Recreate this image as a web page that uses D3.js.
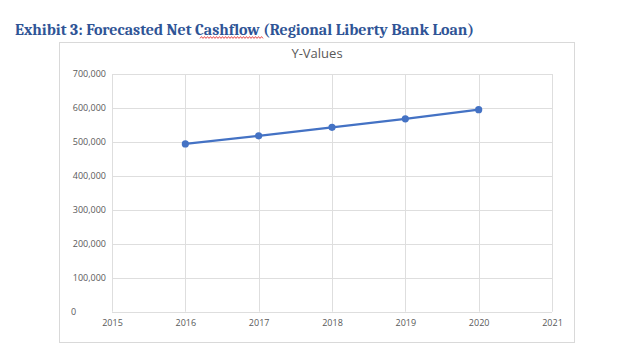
<!doctype html>
<html>
<head>
  <meta charset="utf-8">
  <title>Exhibit 3</title>
  <style>
    html, body { margin: 0; padding: 0; background: #fff; }
    svg { display: block; }
    .tick text { fill: #595959; font-family: "Open Sans", sans-serif; font-size: 9px; }
  </style>
</head>
<body>
  <svg id="chart"></svg>

  <script src="https://d3js.org/d3.v7.min.js"></script>
  <script>
    // data
    var years = [2016, 2017, 2018, 2019, 2020];
    var cashflow = [494000, 518000, 543000, 568000, 595000];
    var xTicks = [2015, 2016, 2017, 2018, 2019, 2020, 2021];
    var yTicks = [0, 100000, 200000, 300000, 400000, 500000, 600000, 700000];

    const W = 623, H = 364;
    var svg = d3.select("#chart").attr("width", W).attr("height", H);

    // page heading
    svg.append("text")
        .attr("x", 15)
        .attr("y", 34.5)
        .attr("textLength", 459)
        .attr("lengthAdjust", "spacingAndGlyphs")
        .style("font-family", "Cambria, 'Liberation Serif', 'DejaVu Serif', serif")
        .style("font-weight", "bold")
        .style("font-size", "15.5px")
        .style("fill", "#2F5496")
        .text("Exhibit 3: Forecasted Net Cashflow (Regional Liberty Bank Loan)");

    // spell-check squiggle under "Cashflow"
    svg.append("path")
        .attr("d", d3.range(200, 264, 1.5).map((v, k) => (k ? "L" : "M") + v + "," + (k % 2 ? 36.6 : 38.4)).join(" "))
        .style("fill", "none")
        .style("stroke", "#e02020")
        .style("stroke-width", 0.8);

    // chart frame
    svg.append("rect")
        .attr("x", 59.5)
        .attr("y", 42.5)
        .attr("width", 515)
        .attr("height", 300)
        .style("fill", "#fff")
        .style("stroke", "#d9d9d9")
        .style("stroke-width", 1);

    svg.append("text")
        .attr("x", 317)
        .attr("y", 57.5)
        .attr("text-anchor", "middle")
        .style("font-family", "'Open Sans', sans-serif")
        .style("font-size", "13px")
        .style("fill", "#595959")
        .text("Y-Values");

    var x = d3.scaleLinear().domain([2015, 2021]).range([112, 552]);
    var y = d3.scaleLinear().domain([0, 700000]).range([311.7, 74]);

    // horizontal gridlines
    svg.append("g")
        .selectAll("line")
        .data(yTicks)
        .join("line")
        .attr("x1", x(2015))
        .attr("x2", x(2021))
        .attr("y1", d => Math.round(y(d)) + 0.5)
        .attr("y2", d => Math.round(y(d)) + 0.5)
        .style("stroke", "#dedede")
        .style("stroke-width", 1);

    // vertical gridlines
    svg.append("g")
        .selectAll("line")
        .data(xTicks)
        .join("line")
        .attr("x1", d => Math.round(x(d)) + 0.5)
        .attr("x2", d => Math.round(x(d)) + 0.5)
        .attr("y1", y(700000))
        .attr("y2", y(0))
        .style("stroke", "#dedede")
        .style("stroke-width", 1);

    // y axis labels (Excel-style, no domain)
    var yAxis = d3.axisLeft(y)
        .tickValues(yTicks)
        .tickSize(0)
        .tickPadding(6)
        .tickFormat(d3.format(","));
    var gy = svg.append("g").attr("transform", "translate(" + x(2015) + ",0)").call(yAxis);
    gy.select(".domain").remove();
    gy.selectAll(".tick").filter(d => d === 0).select("text")
        .attr("text-anchor", "start")
        .attr("x", 71 - x(2015));

    var xAxis = d3.axisBottom(x)
        .tickValues(xTicks)
        .tickSize(0)
        .tickPadding(8)
        .tickFormat(d3.format("d"));
    var gx = svg.append("g").attr("transform", "translate(0," + y(0) + ")").call(xAxis);
    gx.select(".domain").remove();

    // series
    var line = d3.line()
        .x((d, i) => x(years[i]))
        .y(d => y(d));

    svg.append("path")
        .datum(cashflow)
        .attr("d", line)
        .style("fill", "none")
        .style("stroke", "#4472C4")
        .style("stroke-width", 2.25)
        .style("stroke-linejoin", "round");

    svg.append("g")
        .selectAll("circle")
        .data(cashflow)
        .join("circle")
        .attr("cx", (d, i) => x(years[i]))
        .attr("cy", d => y(d))
        .attr("r", 3.6)
        .style("fill", "#4472C4");
  </script>
</body>
</html>
